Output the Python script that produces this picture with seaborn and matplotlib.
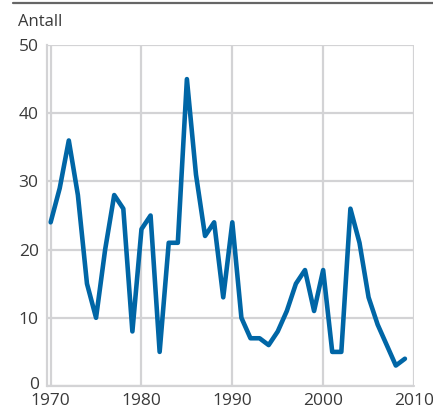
import numpy as np
import pandas as pd
import matplotlib
matplotlib.use("Agg")
import matplotlib.pyplot as plt
import matplotlib.transforms as mtransforms
from matplotlib.lines import Line2D
import seaborn as sns

# Data
years = list(range(1970, 2010))
antall = [24, 29, 36, 28, 15, 10, 20, 28, 26, 8,
          23, 25, 5, 21, 21, 45, 31, 22, 24, 13,
          24, 10, 7, 7, 6, 8, 11, 15, 17, 11,
          17, 5, 5, 26, 21, 13, 9, 6, 3, 4]
xticks = [1970, 1980, 1990, 2000, 2010]
yticks = [0, 10, 20, 30, 40, 50]

df = pd.DataFrame({"year": years, "antall": antall})

sns.set_style("white")
plt.rcParams["font.family"] = ["Open Sans", "DejaVu Sans"]

grid_col = "#d3d3d5"
text_col = "#3a3a3a"

fig = plt.figure(figsize=(4.33, 4.09), dpi=100)
ax = fig.add_axes([47 / 433, 1 - 386 / 409, (414 - 47) / 433, (386 - 45) / 409])

sns.lineplot(data=df, x="year", y="antall", ax=ax, color="#0066a6",
             linewidth=3.3, solid_joinstyle="round", solid_capstyle="round")

ax.set_xlim(1969.6, 2010)
ax.set_ylim(0, 50)
ax.set_xticks(xticks)
ax.set_xticks([1975, 1985, 1995, 2005], minor=True)
ax.set_yticks(yticks)
ax.set_xlabel("")
ax.set_ylabel("")

ax.grid(True, axis="both", which="major", color=grid_col, linewidth=1.6)
ax.set_axisbelow(True)
for side in ["top", "right", "bottom"]:
    ax.spines[side].set_visible(False)
ax.spines["left"].set_color(grid_col)
ax.spines["left"].set_linewidth(1.6)
ax.axhline(0, color=grid_col, linewidth=1.6, zorder=0.5, clip_on=False)

ax.tick_params(axis="x", which="both", direction="in", length=8, width=1.6,
               color=grid_col, labelsize=12.5, labelcolor=text_col, pad=5)
ax.tick_params(axis="y", which="both", direction="out", length=2, width=1.6,
               color=grid_col, labelsize=12.5, labelcolor=text_col, pad=4)

# nudge the "0" label up a little so it clears the 1970 label
zero_lbl = ax.get_yticklabels()[0]
zero_lbl.set_transform(zero_lbl.get_transform() +
                       mtransforms.ScaledTranslation(0, 3 / 100, fig.dpi_scale_trans))

fig.text(18 / 433, 1 - 26 / 409, "Antall", fontsize=12, color=text_col,
         va="baseline", ha="left")
fig.add_artist(Line2D([13 / 433, 1], [1 - 2.5 / 409, 1 - 2.5 / 409],
                      transform=fig.transFigure, color="#666666", linewidth=1.6))

fig.savefig("out.png", dpi=100)
